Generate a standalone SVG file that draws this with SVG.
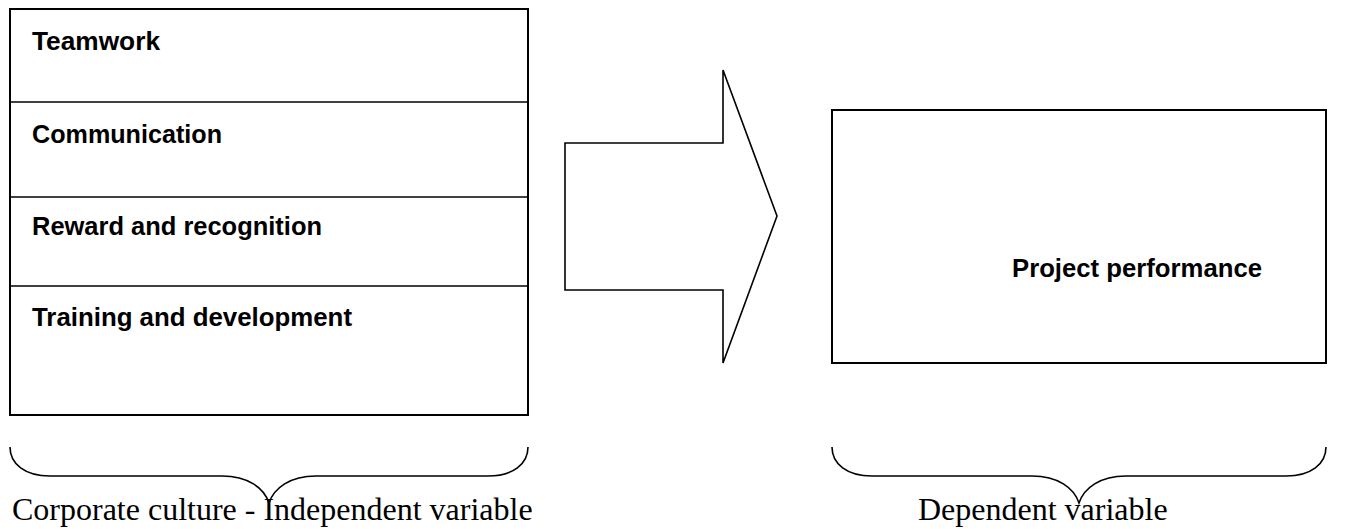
<svg xmlns="http://www.w3.org/2000/svg" width="1360" height="529" viewBox="0 0 1360 529">
<style>
.box{fill:#fff;stroke:#000;stroke-width:2}
.div{stroke:#000;stroke-width:1.6}
.lbl{font-family:"Liberation Sans",Arial,sans-serif;font-weight:bold;font-size:26px;fill:#000}
.cap{font-family:"Liberation Serif","Times New Roman",serif;font-size:32px;fill:#000}
.brace{fill:none;stroke:#000;stroke-width:1.6}
.arrow{fill:#fff;stroke:#000;stroke-width:1.6;stroke-linejoin:miter}
</style>
<rect width="1360" height="529" fill="#fff"/>
<g id="independent">
<rect class="box" x="10" y="9" width="518" height="406"/>
<line class="div" x1="10" y1="102" x2="528" y2="102"/>
<line class="div" x1="10" y1="197" x2="528" y2="197"/>
<line class="div" x1="10" y1="286" x2="528" y2="286"/>
<text class="lbl" x="32" y="50" textLength="128" lengthAdjust="spacingAndGlyphs">Teamwork</text>
<text class="lbl" x="32" y="143" textLength="190" lengthAdjust="spacingAndGlyphs">Communication</text>
<text class="lbl" x="32" y="235" textLength="290" lengthAdjust="spacingAndGlyphs">Reward and recognition</text>
<text class="lbl" x="32" y="326" textLength="320" lengthAdjust="spacingAndGlyphs">Training and development</text>
</g>
<g id="connectors">
<polygon class="arrow" points="565,143 723,143 723,70 777,216 723,363 723,290 565,290"/>
</g>
<g id="dependent">
<rect class="box" x="832" y="110" width="494" height="253"/>
<text class="lbl" x="1012" y="277" textLength="250" lengthAdjust="spacingAndGlyphs">Project performance</text>
</g>
<g id="braces">
<path class="brace" d="M10,447 C10,464 25,476 50,476 L222,476 C248,476 264,488 269,503 C274,488 290,476 316,476 L488,476 C513,476 528,464 528,447"/>
<path class="brace" d="M832,447 C832,464 847,476 872,476 L1032,476 C1058,476 1074,488 1079,503 C1084,488 1100,476 1126,476 L1286,476 C1311,476 1326,464 1326,447"/>
<text class="cap" x="12" y="520">Corporate culture - Independent variable</text>
<text class="cap" x="918" y="520">Dependent variable</text>
</g>
</svg>
